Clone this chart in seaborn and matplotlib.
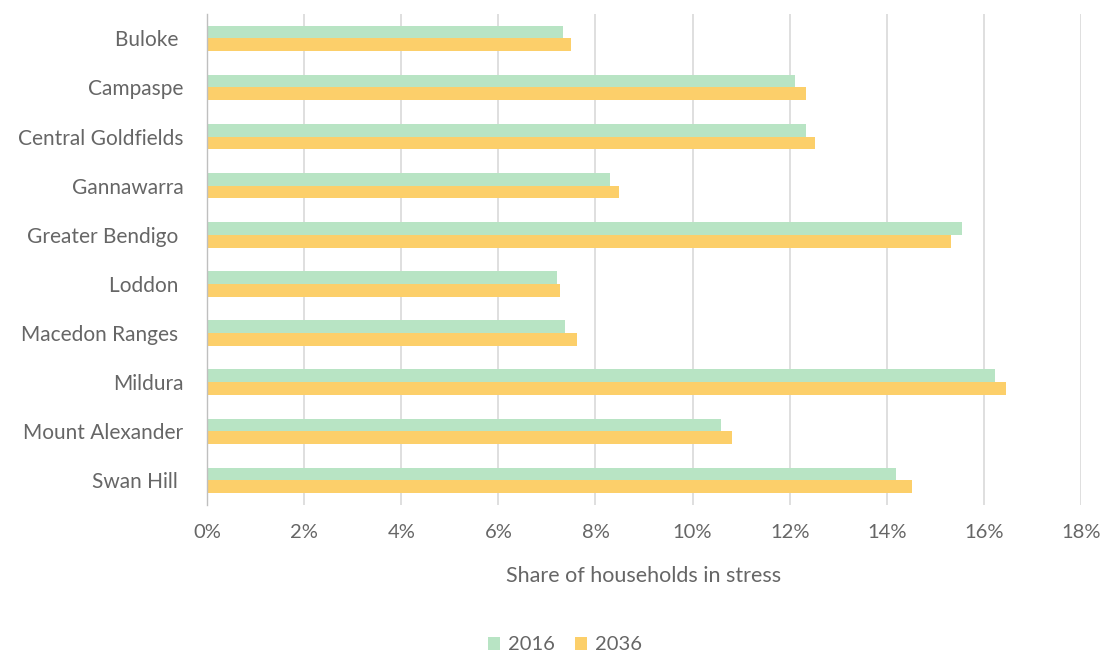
import matplotlib
matplotlib.use("Agg")
import matplotlib.pyplot as plt
import seaborn as sns
import pandas as pd
from matplotlib.ticker import FuncFormatter, MultipleLocator

categories = ["Buloke ", "Campaspe", "Central Goldfields", "Gannawarra", "Greater Bendigo ",
              "Loddon ", "Macedon Ranges ", "Mildura", "Mount Alexander", "Swan Hill "]
share_2016 = [7.33, 12.11, 12.34, 8.31, 15.54, 7.21, 7.37, 16.24, 10.59, 14.20]
share_2036 = [7.50, 12.33, 12.53, 8.49, 15.32, 7.28, 7.61, 16.45, 10.81, 14.51]
years = ["2016", "2036"]
colors = ["#b8e4c4", "#fccf6a"]

df = pd.DataFrame({
    "LGA": categories * 2,
    "Year": [years[0]] * len(categories) + [years[1]] * len(categories),
    "Share": share_2016 + share_2036,
})

sns.set_theme(style="white")
plt.rcParams["font.family"] = ["Lato", "DejaVu Sans"]
plt.rcParams["font.weight"] = "normal"
text_color = "#666666"

fig = plt.figure(figsize=(11.09, 6.57), dpi=100)
ax = fig.add_axes([0.1867, 0.2314, 0.9747 - 0.1867, 0.979 - 0.2314])

sns.barplot(data=df, x="Share", y="LGA", hue="Year", orient="h",
            palette=colors, width=0.52, gap=0, ax=ax, legend=True, saturation=1,
            linewidth=0)

ax.set_xlim(0, 18)
ax.set_ylim(9.5, -0.5)
ax.xaxis.set_major_locator(MultipleLocator(2))
ax.xaxis.set_major_formatter(FuncFormatter(lambda v, p: f"{v:.0f}%"))
ax.grid(axis="x", color="#d9d9d9", linewidth=1.2)
ax.set_axisbelow(True)
for s in ["top", "right", "bottom"]:
    ax.spines[s].set_visible(False)
ax.spines["left"].set_color("#bfbfbf")
ax.spines["left"].set_linewidth(1.0)
ax.tick_params(axis="x", length=0, pad=14, labelsize=14.5, labelcolor=text_color)
ax.tick_params(axis="y", length=0, pad=17, labelsize=15, labelcolor=text_color)
ax.set_ylabel("")
ax.set_xlabel("Share of households in stress", fontsize=15.5, color=text_color,
              labelpad=18, fontweight="normal")

handles, labels = ax.get_legend_handles_labels()
ax.legend_.remove()
fig.legend(handles, labels, loc="center", bbox_to_anchor=(565 / 1109, 1 - 645 / 657),
           ncol=2, frameon=False, fontsize=14.5, labelcolor=text_color,
           handlelength=0.6, handleheight=0.6, handletextpad=0.4, columnspacing=1.0)

fig.savefig("out.png", dpi=100)
